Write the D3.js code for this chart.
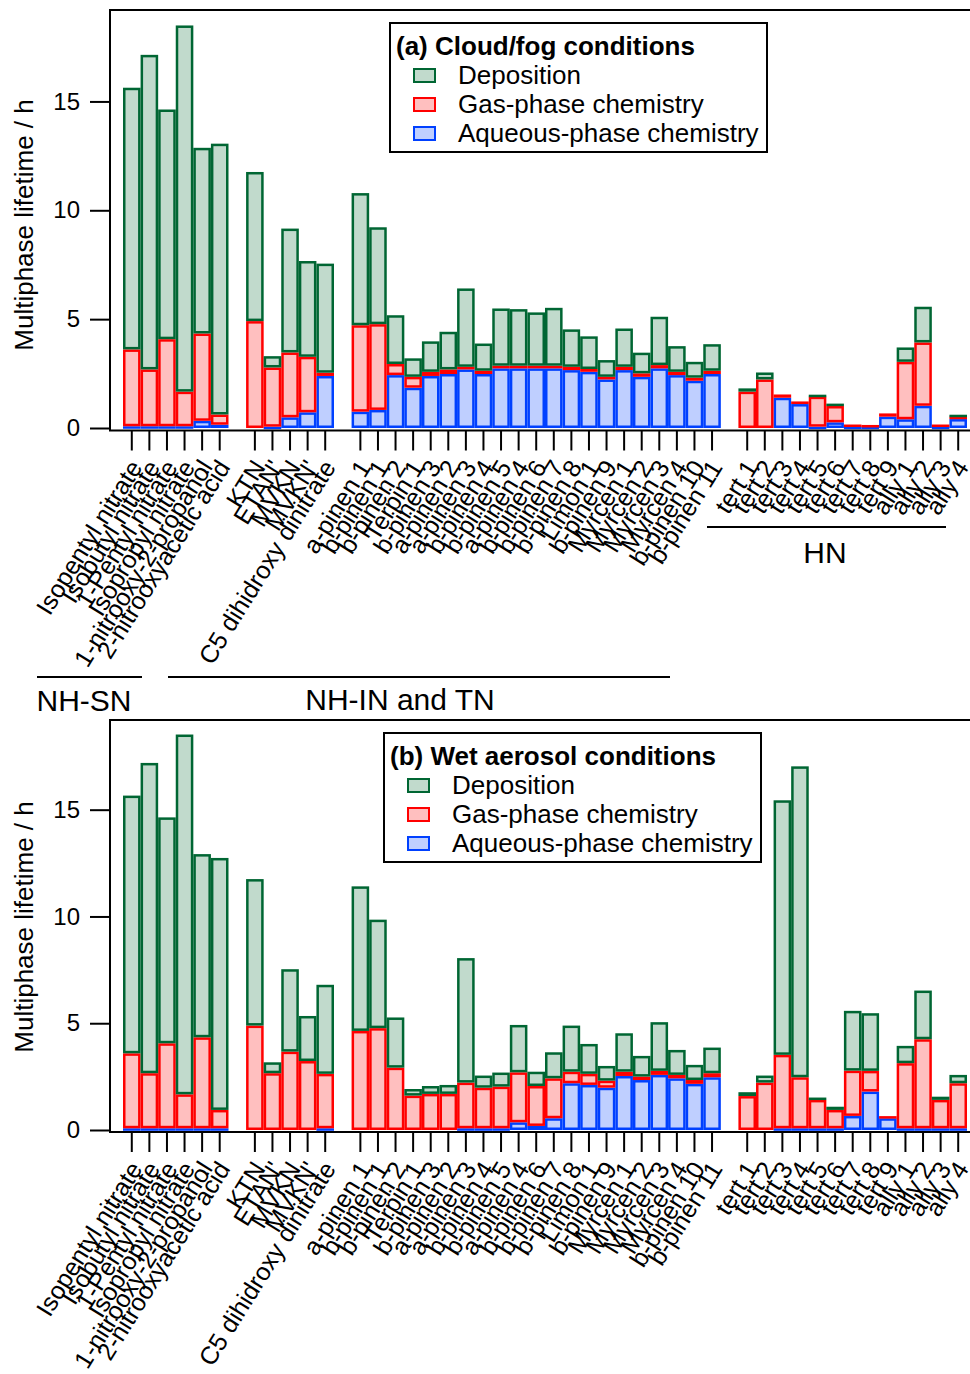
<!DOCTYPE html>
<html>
<head>
<meta charset="utf-8">
<script src="https://cdn.jsdelivr.net/npm/d3@7"></script>
<style>
	body { margin: 0; background: #fff; }
	svg { display: block; font-family: 'Liberation Sans', Arial, Helvetica, sans-serif; }
</style>
</head>
<body>
<svg id="chart" width="970" height="1374"></svg>
<script>
// category groups
const nhsnLabels = ['Isopentyl nitrate', 'Isobutyl nitrate', '1-Pentyl nitrate', 'Isopropyl nitrate', '1-nitrooxy-2-propanol', '2-nitrooxyacetic acid']
const nhinLabels = ['KTN', "ETAN'", 'MVKN', "MVKN'", 'C5 dihidroxy dinitrate']
const terpLabels = ['a-pinen 1', 'b-pinen 1', 'b-pinen 2', 'Terpin 1', 'b-pinen 3', 'a-pinen 2', 'a-pinen 3', 'b-pinen 4', 'b-pinen 5', 'a-pinen 4',
	'b-pinen 6', 'b-pinen 7', 'b-pinen 8', 'Limon 1', 'b-pinen 9', 'Myrcen 1', 'Myrcen 2', 'Myrcen 3', 'Myrcen 4', 'b-pinen 10', 'b-pinen 11']
const hnLabels = ['tert 1', 'tert 2', 'tert 3', 'tert 4', 'tert 5', 'tert 6', 'tert 7', 'tert 8', 'tert 9', 'ally 1', 'ally 2', 'ally 3', 'ally 4']

const yTicks = [0, 5, 10, 15]

// (a) cloud/fog conditions, lifetime contributions in h
const cloudAq = [0.08, 0.08, 0.08, 0.08, 0.33, 0.15,
	0, 0.06, 0.49, 0.72, 2.39,
	0.75, 0.83, 2.43, 1.85, 2.39, 2.48, 2.69, 2.48, 2.74, 2.74, 2.74, 2.74, 2.66, 2.58, 2.23, 2.66, 2.35, 2.74, 2.43, 2.17, 2.48,
	0, 0, 1.39, 1.10, 0.06, 0.26, 0.06, 0.06, 0.52, 0.40, 1.02, 0.06, 0.41]
const cloudGas = [3.53, 2.61, 4.00, 1.59, 4.01, 0.47,
	4.91, 2.72, 2.98, 2.55, 0.15,
	3.97, 3.94, 0.51, 0.50, 0.19, 0.21, 0.12, 0.15, 0.12, 0.12, 0.12, 0.12, 0.15, 0.13, 0.12, 0.15, 0.16, 0.15, 0.15, 0.14, 0.15,
	1.67, 2.23, 0.15, 0.12, 1.38, 0.75, 0.10, 0.08, 0.15, 2.64, 2.91, 0.10, 0.11]
const cloudDep = [12.02, 14.45, 10.55, 16.82, 8.53, 12.44,
	6.85, 0.52, 5.69, 4.40, 5.01,
	6.07, 4.45, 2.24, 0.85, 1.40, 1.73, 3.60, 1.25, 2.63, 2.60, 2.45, 2.66, 1.72, 1.50, 0.77, 1.76, 0.95, 2.22, 1.18, 0.73, 1.22,
	0.15, 0.32, 0, 0, 0.09, 0.11, 0, 0, 0, 0.66, 1.64, 0, 0.09]

// (b) wet aerosol conditions
const wetAq = [0.08, 0.08, 0.08, 0.08, 0.08, 0.08,
	0, 0, 0, 0, 0.08,
	0, 0, 0, 0, 0, 0, 0.08, 0.08, 0.08, 0.36, 0.19, 0.55, 2.19, 2.11, 1.98, 2.53, 2.34, 2.58, 2.42, 2.16, 2.47,
	0, 0, 0.08, 0.08, 0.08, 0.08, 0.66, 1.80, 0.55, 0.08, 0.08, 0.08, 0.08]
const wetGas = [3.51, 2.58, 3.98, 1.59, 4.26, 0.86,
	4.89, 2.66, 3.67, 3.23, 2.55,
	4.64, 4.77, 2.92, 1.61, 1.69, 1.69, 2.14, 1.90, 1.95, 2.34, 1.87, 1.87, 0.54, 0.52, 0.33, 0.20, 0.16, 0.19, 0.16, 0.18, 0.19,
	1.59, 2.22, 3.44, 2.39, 1.33, 0.86, 2.12, 0.97, 0.10, 3.05, 4.17, 1.33, 2.11]
const wetDep = [12.07, 14.53, 10.58, 16.85, 8.58, 11.80,
	6.86, 0.51, 3.86, 2.11, 4.17,
	6.77, 5.08, 2.35, 0.31, 0.37, 0.42, 5.83, 0.57, 0.66, 2.22, 0.67, 1.22, 2.16, 1.40, 0.69, 1.80, 0.97, 2.28, 1.17, 0.71, 1.20,
	0.18, 0.33, 11.92, 14.56, 0.11, 0.15, 2.80, 2.70, 0, 0.81, 2.28, 0.15, 0.39]

const seriesKeys = ['aq', 'gas', 'dep']
const seriesNames = { dep: 'Deposition', gas: 'Gas-phase chemistry', aq: 'Aqueous-phase chemistry' }
const fills = { dep: '#c1dacc', gas: '#ffbfbf', aq: '#bfcfff' }
const strokes = { dep: '#006633', gas: '#ff0000', aq: '#0040ff' }

const SW = 2.5
const Y_MAX = 19.2

const categories = [...nhsnLabels, ...nhinLabels, ...terpLabels, ...hnLabels]
// one empty slot between groups
const slots = [...nhsnLabels, '_gap1', ...nhinLabels, '_gap2', ...terpLabels, '_gap3', ...hnLabels]

const x = d3.scaleBand()
	.domain(slots)
	.range([123, 967])
	.padding(0)

const svg = d3.select('#chart')

const drawPanel = ({ top, zero, axisY, aq, gas, dep, title, lx, ly }) => {

	const rows = categories.map((name, i) => ({ name, aq: aq[i], gas: gas[i], dep: dep[i] }))
	const stacked = d3.stack().keys(seriesKeys)(rows)

	const y = d3.scaleLinear()
		.domain([0, Y_MAX])
		.range([zero, top])

	const g = svg.append('g')

	// bars, stroke drawn inside each segment
	g.selectAll('.layer')
		.data(stacked)
		.enter()
		.append('g')
		.attr('class', 'layer')
		.attr('fill', s => fills[s.key])
		.attr('stroke', s => strokes[s.key])
		.attr('stroke-width', SW)
		.selectAll('rect')
		.data(s => s.filter(d => d[1] - d[0] > 0))
		.enter()
		.append('rect')
		.attr('x', d => x(d.data.name) + SW/2)
		.attr('width', x.bandwidth() - SW)
		.attr('y', d => y(d[1]) + SW/2)
		.attr('height', d => Math.max(y(d[0]) - y(d[1]) - SW, 0.01))

	// frame
	g.append('path')
		.attr('d', `M970,${top}H110V${axisY}H970`)
		.attr('fill', 'none')
		.attr('stroke', '#000')
		.attr('stroke-width', 2)

	const yAxis = g.append('g')
		.attr('transform', 'translate(110,0)')
		.call(d3.axisLeft(y).tickValues(yTicks).tickSize(20).tickSizeOuter(0).tickPadding(10))
	yAxis.select('.domain').remove()
	yAxis.selectAll('line').attr('stroke-width', 2)
	yAxis.selectAll('text')
		.attr('font-size', 24)
		.attr('font-family', 'Liberation Sans, Arial, sans-serif')
		.attr('fill', '#000')

	g.append('text')
		.attr('transform', `translate(33, ${zero - 203}) rotate(-90)`)
		.attr('text-anchor', 'middle')
		.attr('font-size', 26)
		.text('Multiphase lifetime / h')

	const xAxis = g.append('g')
		.attr('transform', `translate(0, ${axisY})`)
		.call(d3.axisBottom(x).tickValues(categories).tickSize(20).tickSizeOuter(0))
	xAxis.select('.domain').remove()
	xAxis.selectAll('line').attr('stroke-width', 2)
	xAxis.selectAll('text')
		.attr('x', 0)
		.attr('y', 0)
		.attr('dy', '0.35em')
		.attr('transform', 'translate(4, 32) rotate(-58)')
		.attr('text-anchor', 'end')
		.attr('font-size', 25)
		.attr('font-family', 'Liberation Sans, Arial, sans-serif')
		.attr('fill', '#000')

	// legend
	const legend = g.append('g')
		.attr('transform', `translate(${lx}, ${ly})`)

	legend.append('rect')
		.attr('width', 377)
		.attr('height', 129)
		.attr('fill', '#fff')
		.attr('stroke', '#000')
		.attr('stroke-width', 2)

	legend.append('text')
		.attr('x', 6)
		.attr('y', 23)
		.attr('dy', '0.35em')
		.attr('font-size', 26)
		.attr('font-weight', 'bold')
		.text(title)

	const items = legend.selectAll('.item')
		.data(['dep', 'gas', 'aq'])
		.enter()
		.append('g')
		.attr('class', 'item')
		.attr('transform', (d, i) => `translate(0, ${52 + i*29})`)

	items.append('rect')
		.attr('x', 24)
		.attr('y', -6)
		.attr('width', 21)
		.attr('height', 13)
		.attr('fill', d => fills[d])
		.attr('stroke', d => strokes[d])
		.attr('stroke-width', 2)

	items.append('text')
		.attr('x', 68)
		.attr('dy', '0.35em')
		.attr('font-size', 26)
		.text(d => seriesNames[d])

	return g
}

drawPanel({ top: 10, zero: 428, axisY: 430.5, aq: cloudAq, gas: cloudGas, dep: cloudDep,
	title: '(a) Cloud/fog conditions', lx: 390, ly: 23 })

drawPanel({ top: 720, zero: 1130, axisY: 1132, aq: wetAq, gas: wetGas, dep: wetDep,
	title: '(b) Wet aerosol conditions', lx: 384, ly: 733 })

// group annotations under panel (a)
const groups = [
	{ name: 'NH-SN', x1: 37, x2: 142, ly: 677, tx: 84, ty: 700 },
	{ name: 'NH-IN and TN', x1: 168, x2: 670, ly: 677, tx: 400, ty: 699 },
	{ name: 'HN', x1: 707, x2: 946, ly: 527, tx: 825, ty: 552 }
]

const groupG = svg.append('g')

groupG.selectAll('line')
	.data(groups)
	.enter()
	.append('line')
	.attr('x1', d => d.x1)
	.attr('x2', d => d.x2)
	.attr('y1', d => d.ly)
	.attr('y2', d => d.ly)
	.attr('stroke', '#000')
	.attr('stroke-width', 2)

groupG.selectAll('text')
	.data(groups)
	.enter()
	.append('text')
	.attr('x', d => d.tx)
	.attr('y', d => d.ty)
	.attr('dy', '0.35em')
	.attr('text-anchor', 'middle')
	.attr('font-size', 30)
	.text(d => d.name)
</script>
</body>
</html>
